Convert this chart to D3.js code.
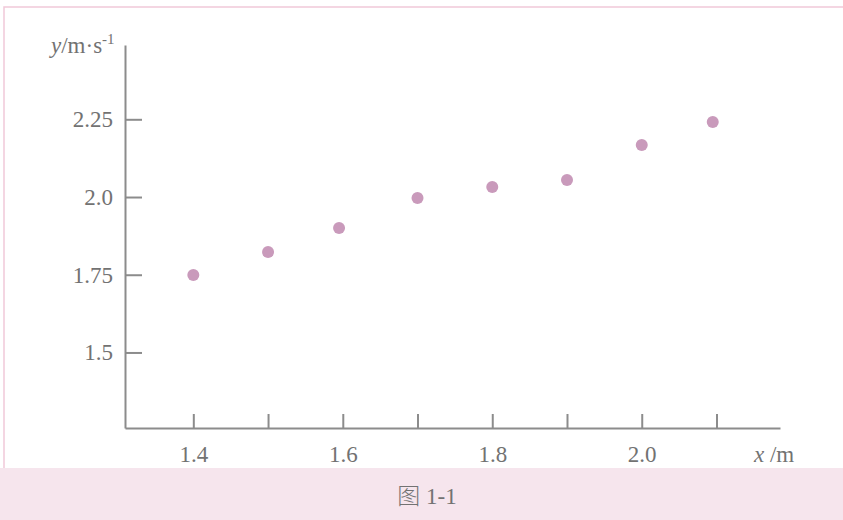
<!DOCTYPE html>
<html>
<head>
<meta charset="utf-8">
<script src="https://cdn.jsdelivr.net/npm/d3@7"></script>
<style>
  body { margin: 0; background: #fff; }
  svg { display: block; }
  .axis path, .axis line { stroke: #8c8c8c; stroke-width: 2; }
  .axis text { font-family: "Liberation Serif", "DejaVu Serif", serif; font-size: 23px; fill: #727272; }
  .lbl { font-family: "Liberation Serif", "DejaVu Serif", serif; font-size: 23px; fill: #727272; }
</style>
</head>
<body>
<svg id="chart"></svg>
<script>
// data
const xValues = [1.4, 1.5, 1.595, 1.7, 1.8, 1.9, 2.0, 2.095];
const yValues = [1.749, 1.823, 1.9, 1.997, 2.032, 2.055, 2.167, 2.241];
const xTicks = [1.4, 1.5, 1.6, 1.7, 1.8, 1.9, 2.0, 2.1];
const xTickLabels = ["1.4", "", "1.6", "", "1.8", "", "2.0", ""];
const yTicks = [1.5, 1.75, 2.0, 2.25];
const yTickLabels = ["1.5", "1.75", "2.0", "2.25"];

const W = 843, H = 520;

const svg = d3.select("#chart")
  .attr("width", W)
  .attr("height", H);

// page background: pink band at the bottom and thin frame
svg.append("rect")
  .attr("x", 0).attr("y", 468)
  .attr("width", W).attr("height", H - 468)
  .attr("fill", "#f6e5ed");

svg.append("path")
  .attr("d", "M4,468V7H843")
  .attr("fill", "none")
  .attr("stroke", "#f1c9d9")
  .attr("stroke-width", 1.5);

// scales
const x = d3.scaleLinear()
  .domain([1.3086, 2.185])
  .range([125, 780]);

const y = d3.scaleLinear()
  .domain([1.257, 2.489])
  .range([428, 45]);

// x axis (ticks point up)
svg.append("g")
  .attr("class", "axis")
  .attr("transform", "translate(0,428)")
  .call(d3.axisBottom(x)
    .tickValues(xTicks)
    .tickSizeInner(-14)
    .tickSizeOuter(0)
    .tickPadding(18)
    .tickFormat((d, i) => xTickLabels[i]));

// y axis (ticks point right)
svg.append("g")
  .attr("class", "axis")
  .attr("transform", "translate(125,0)")
  .call(d3.axisLeft(y)
    .tickValues(yTicks)
    .tickSizeInner(-17)
    .tickSizeOuter(0)
    .tickPadding(12)
    .tickFormat((d, i) => yTickLabels[i]));

// points
svg.append("g")
  .selectAll("circle")
  .data(xValues)
  .join("circle")
  .attr("cx", d => x(d))
  .attr("cy", (d, i) => y(yValues[i]))
  .attr("r", 6)
  .attr("fill", "#c99abb");

// axis titles
const yl = svg.append("text")
  .attr("class", "lbl")
  .attr("x", 51)
  .attr("y", 53);
yl.append("tspan").attr("font-style", "italic").text("y");
yl.append("tspan").text("/m·s");
yl.append("tspan").attr("font-size", "15px").attr("dy", -9).text("-1");

const xl = svg.append("text")
  .attr("class", "lbl")
  .attr("x", 754)
  .attr("y", 462);
xl.append("tspan").attr("font-style", "italic").text("x");
xl.append("tspan").text(" /m");

// caption
const cap = svg.append("text")
  .attr("class", "lbl")
  .attr("x", 427)
  .attr("y", 504)
  .attr("text-anchor", "middle")
  .attr("font-size", "24px");
cap.append("tspan").attr("font-family", "Noto Sans CJK SC").attr("font-weight", 300).text("图");
cap.append("tspan").attr("font-family", "Liberation Serif").text(" 1-1");
</script>
</body>
</html>
